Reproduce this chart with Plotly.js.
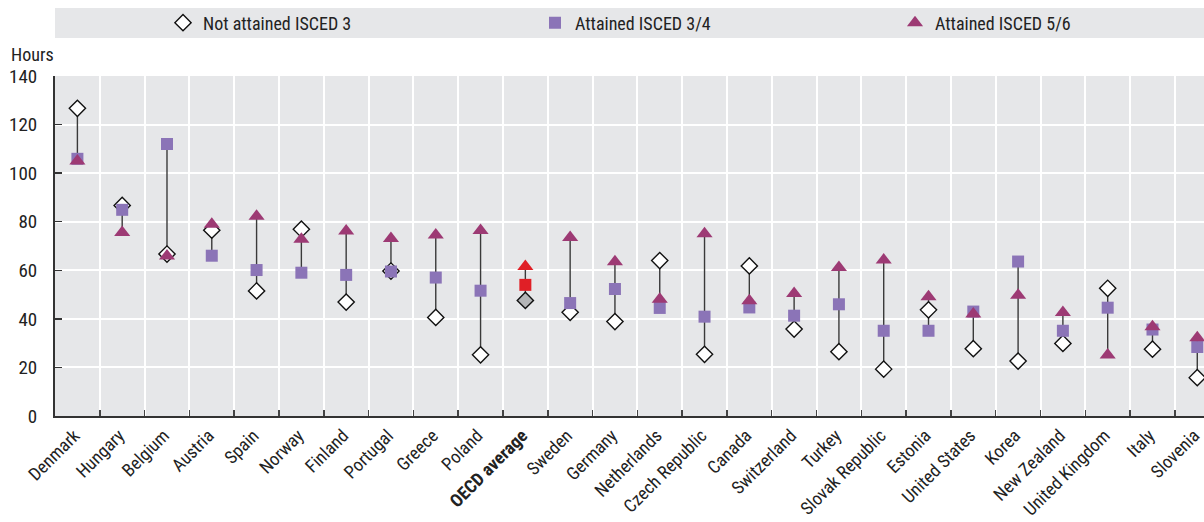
<!DOCTYPE html>
<html>
<head>
<meta charset="utf-8">
<script src="https://cdn.plot.ly/plotly-3.0.1.min.js"></script>
<style>
html,body{margin:0;padding:0;background:#fff;}
#chart{width:1204px;height:522px;}
</style>
</head>
<body>
<div id="chart"></div>
<script>
// ---- data ----
const categories = ["Denmark","Hungary","Belgium","Austria","Spain","Norway","Finland","Portugal","Greece","Poland","OECD average","Sweden","Germany","Netherlands","Czech Republic","Canada","Switzerland","Turkey","Slovak Republic","Estonia","United States","Korea","New Zealand","United Kingdom","Italy","Slovenia"];
const notAttainedISCED3 = [126.7,86.7,66.7,76.5,51.5,76.9,46.9,59.7,40.6,25.2,47.6,42.7,38.9,64.0,25.4,61.8,35.8,26.5,19.3,43.7,27.7,22.6,29.9,52.6,27.5,15.8];
const attainedISCED34 = [105.9,84.9,112.0,66.0,60.1,59.0,58.1,59.5,57.0,51.6,54.0,46.5,52.3,44.5,40.9,44.7,41.3,46.0,35.1,35.1,43.0,63.6,35.1,44.6,35.6,28.4];
const attainedISCED56 = [105.0,75.6,65.9,79.0,82.3,72.8,76.2,73.1,74.5,76.4,61.6,73.5,63.5,48.1,75.0,47.5,50.4,61.1,64.2,49.1,42.0,49.7,42.6,25.1,36.7,32.2];
const seriesNames = ["Not attained ISCED 3","Attained ISCED 3/4","Attained ISCED 5/6"];
const yTicks = [0,20,40,60,80,100,120,140];
const highlight = "OECD average";

// ---- styles ----
const FONT = "'Liberation Sans Narrow','Roboto Condensed','Arial Narrow','DejaVu Sans Condensed',sans-serif";
const diamondColors = categories.map(c => c === highlight ? "#b4b5b7" : "#ffffff");
const squareColors = categories.map(c => c === highlight ? "#e01f26" : "#8b74b7");
const triColors = categories.map(c => c === highlight ? "#e01f26" : "#9d3a74");
const tickText = categories.map(c => c === highlight ? "<b>" + c + "</b>" : c);

// connector lines (min to max per category)
const lx = [], ly = [];
categories.forEach((c, i) => {
  const vals = [notAttainedISCED3[i], attainedISCED34[i], attainedISCED56[i]];
  lx.push(c, c, null);
  ly.push(Math.min(...vals), Math.max(...vals), null);
});

const traces = [
  {x: lx, y: ly, type: "scatter", mode: "lines", line: {color: "#3a3a3a", width: 1.4}, showlegend: false, hoverinfo: "skip"},
  {x: categories, y: notAttainedISCED3, type: "scatter", mode: "markers", name: seriesNames[0], legend: "legend",
   marker: {symbol: "diamond", size: 12.5, color: diamondColors, line: {color: "#111", width: 1.4}}},
  {x: categories, y: attainedISCED34, type: "scatter", mode: "markers", name: seriesNames[1], legend: "legend2",
   marker: {symbol: "square", size: 12, color: squareColors, line: {width: 0}}},
  {x: categories, y: attainedISCED56, type: "scatter", mode: "markers", name: seriesNames[2], legend: "legend3",
   marker: {symbol: "triangle-up", size: 14, color: triColors, line: {width: 0}}}
];

const legendY = (416 - 23) / 340;
function legendAt(px) {
  return {
    orientation: "h", x: (px - 20 - 55) / 1149, xanchor: "left", y: legendY, yanchor: "middle",
    bgcolor: "rgba(0,0,0,0)", font: {family: FONT, size: 18, color: "#222"}, itemwidth: 30
  };
}

const layout = {
  width: 1204, height: 522,
  margin: {l: 55, r: 0, t: 76, b: 106},
  paper_bgcolor: "#ffffff",
  plot_bgcolor: "#e6e7e9",
  font: {family: FONT, color: "#222", size: 16},
  showlegend: true,
  hovermode: false,
  legend: legendAt(183),
  legend2: legendAt(555),
  legend3: legendAt(915),
  xaxis: {
    type: "category", categoryorder: "array", categoryarray: categories,
    tickvals: categories, ticktext: tickText, automargin: false,
    range: [-0.5, 25.15], tickangle: -45, tickson: "boundaries",
    ticks: "inside", ticklen: 6, tickwidth: 1.5, tickcolor: "#444",
    ticklabelshift: -3,
    showgrid: true, gridcolor: "#ffffff", gridwidth: 2,
    showline: true, linecolor: "#333", linewidth: 2,
    tickfont: {family: FONT, size: 18, color: "#222"}, fixedrange: true
  },
  yaxis: {
    range: [0, 140], tickvals: yTicks, ticktext: yTicks.map(String), automargin: false,
    ticks: "inside", ticklen: 7, tickwidth: 1.5, tickcolor: "#333",
    showgrid: true, gridcolor: "#ffffff", gridwidth: 2, zeroline: false,
    showline: true, linecolor: "#333", linewidth: 2,
    ticklabelstandoff: 12,
    tickfont: {family: FONT, size: 19, color: "#222"}, fixedrange: true
  },
  shapes: [
    {type: "rect", xref: "paper", yref: "paper", x0: 0, x1: 1, y0: (416-38)/340, y1: (416-8)/340,
     fillcolor: "#e6e7e9", line: {width: 0}, layer: "below"}
  ],
  annotations: [
    {text: "Hours", xref: "paper", yref: "paper", x: -46/1149, y: (416-54)/340, xanchor: "left", yanchor: "middle",
     showarrow: false, font: {family: FONT, size: 18, color: "#222"}}
  ]
};

Plotly.newPlot("chart", traces, layout, {displayModeBar: false, staticPlot: true});
</script>
</body>
</html>
